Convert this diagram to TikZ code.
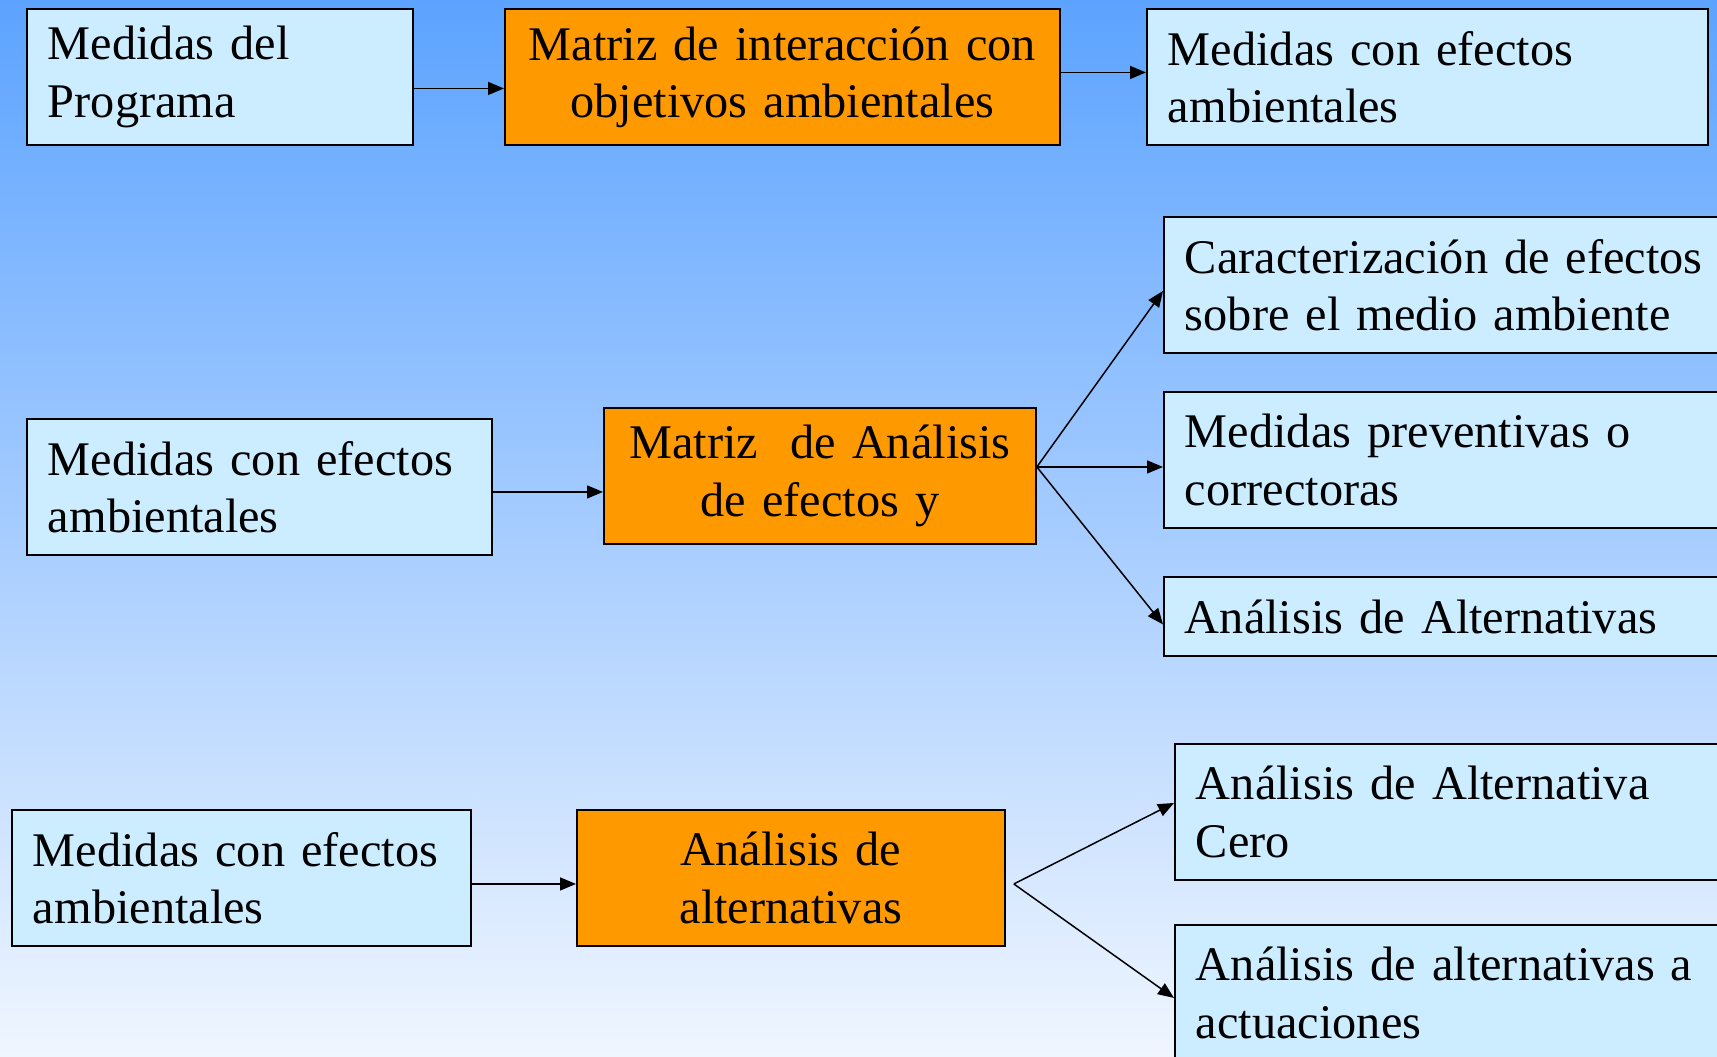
\documentclass[tikz,border=0pt]{standalone}
\usepackage{fontspec}
\setmainfont[WordSpace=0.8]{Liberation Serif}
\usetikzlibrary{arrows.meta}
\definecolor{fondoarriba}{RGB}{92,163,255}
\definecolor{fondomedio}{RGB}{187,210,255}
\definecolor{fondoabajo}{RGB}{240,246,255}
\definecolor{celeste}{RGB}{204,236,255}
\definecolor{naranja}{RGB}{255,153,0}
\tikzset{
  caja/.style={draw=black, line width=1.1pt, fill=celeste, anchor=north west,
    align=left, inner xsep=0.42cm, inner ysep=0pt, minimum height=2.72cm,
    font=\fontsize{27.5}{32.5}\selectfont},
  matriz/.style={caja, fill=naranja, align=center},
  flecha/.style={-{Triangle[length=0.32cm,width=0.26cm]}, line width=0.85pt}
}
\begin{document}
\begin{tikzpicture}[x=0.02cm,y=-0.02cm]
  \shade[top color=fondoarriba, middle color=fondomedio, bottom color=fondoabajo]
    (0,0) rectangle (1717,1057);
  \clip (0,0) rectangle (1717,1057);
  % primera fila
  \node[caja, text width=6.88cm] (a1) at (26,8) {Medidas del\\Programa};
  \node[matriz, text width=10.26cm] (a2) at (504,8) {Matriz de interacción con\\objetivos ambientales};
  \node[caja, text width=10.38cm] (a3) at (1146,8) {Medidas con efectos\\ambientales};
  % segunda fila
  \node[caja, text width=8.46cm] (b1) at (26,418) {Medidas con efectos\\ambientales};
  \node[matriz, text width=7.8cm] (b2) at (603,407) {Matriz~ de Análisis\\de efectos y};
  \node[caja, text width=12cm] (b3) at (1163,216) {Caracterización de efectos\\sobre el medio ambiente};
  \node[caja, text width=12cm] (b4) at (1163,391) {Medidas preventivas o\\correctoras};
  \node[caja, text width=12cm, minimum height=1.58cm] (b5) at (1163,576) {Análisis de Alternativas};
  % tercera fila
  \node[caja, text width=8.34cm] (c1) at (11,809) {Medidas con efectos\\ambientales};
  \node[matriz, text width=7.72cm] (c2) at (576,809) {Análisis de\\alternativas};
  \node[caja, text width=12cm] (c3) at (1174,743) {Análisis de Alternativa\\Cero};
  \node[caja, text width=12cm] (c5) at (1174,924) {Análisis de alternativas a\\actuaciones};
  \coordinate (b2salida) at ([yshift=0.18cm]b2.east);
  \coordinate (c2salida) at ([xshift=0.16cm,yshift=-0.12cm]c2.east);
  \begin{scope}[flecha]
    \draw ([yshift=-0.23cm]a1.east) -- ([yshift=-0.23cm]a2.west);
    \draw ([yshift=0.09cm]a2.east) -- ([yshift=0.09cm]a3.west);
    \draw ([yshift=-0.1cm]b1.east) -- ([yshift=-0.1cm]b1.east -| b2.west);
    \draw (b2salida) -- ([yshift=-0.12cm]b3.west);
    \draw (b2salida) -- (b2salida -| b4.west);
    \draw (b2salida) -- ([yshift=-0.16cm]b5.west);
    \draw ([yshift=-0.12cm]c1.east) -- ([yshift=-0.12cm]c2.west);
    \draw (c2salida) -- ([yshift=0.18cm]c3.west);
    \draw (c2salida) -- ([yshift=-0.1cm]c5.west);
  \end{scope}
\end{tikzpicture}
\end{document}
